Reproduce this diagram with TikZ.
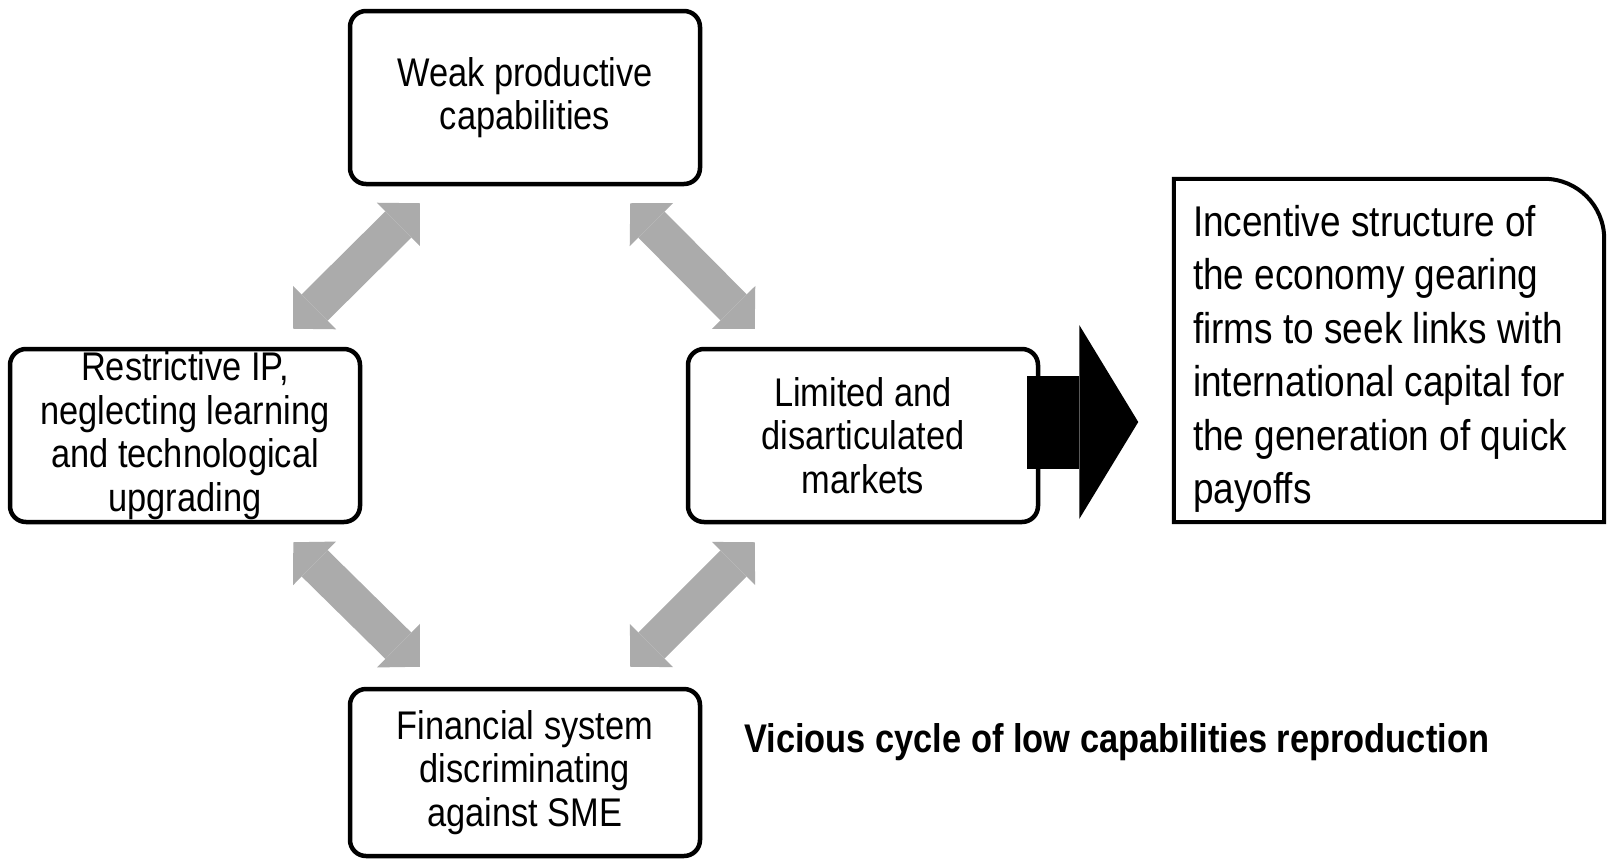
\documentclass[tikz,border=0pt]{standalone}
\usepackage{fontspec}
\setmainfont{Liberation Sans}[FakeStretch=0.86]
\usetikzlibrary{arrows.meta,calc}
\definecolor{linkgray}{RGB}{171,171,171}

\begin{document}
\begin{tikzpicture}
  [
    x=1pt, y=1pt,
    cycbox/.style =
      {draw, line width=4.5pt, rounded corners=16pt, align=center, inner sep=0pt,
       minimum width=350pt, minimum height=173pt,
       font=\fontsize{40}{43.5}\selectfont},
    linkarrow/.style =
      {<->, >={Triangle[length=30pt, width=61pt, line width=0pt]},
       draw=linkgray, line width=37pt},
    outarrow/.style =
      {->, >={Triangle[length=59pt, width=194pt, line width=0pt]},
       draw=black, line width=93pt}
  ]

\useasboundingbox (0,0) rectangle (1612,-860);

% the cycle
\node[cycbox] (wpc) at (525,-97.5) {Weak productive\\capabilities};
\node[cycbox] (rip) at (185,-435.5) {Restrictive IP,\\neglecting learning\\and technological\\upgrading};
\node[cycbox] (ldm) at (863,-435.5) {Limited and\\disarticulated\\markets};
\node[cycbox, minimum height=167pt] (fsd) at (525,-772.5) {Financial system\\discriminating\\against SME};

\draw [linkarrow] ($(wpc.south west)+(72,-17)$) -- ($(rip.north east)+(-69,18)$);
\draw [linkarrow] ($(wpc.south east)+(-72,-17)$) -- ($(ldm.north west)+(69,18)$);
\draw [linkarrow] ($(rip.south east)+(-69,-18)$) -- ($(fsd.north west)+(72,20)$);
\draw [linkarrow] ($(ldm.south west)+(69,-18)$) -- ($(fsd.north east)+(-72,20)$);

% outcome box, only one corner rounded
\node[minimum width=430pt, minimum height=343pt, inner sep=0pt] (inc) at (1389,-350.5) {};
\draw [line width=4pt] (inc.south west) -- (inc.north west)
  -- ($(inc.north east)+(-60,0)$) arc[start angle=90, end angle=0, radius=60]
  -- (inc.south east) -- cycle;
\node[inner sep=0pt, align=left, anchor=north west, font=\fontsize{43}{53.5}\selectfont]
  (inctxt) at ($(inc.north west)+(19,-26)$)
  {Incentive structure of\\the economy gearing\\firms to seek links with\\international capital for\\the generation of quick\\payoffs};

\draw [outarrow] ($(ldm.east)+(-13,13.5)$) -- ++(111,0);

\node[inner sep=0pt, anchor=base west, font=\bfseries\fontsize{40}{43.5}\selectfont]
  (title) at (744,-752) {Vicious cycle of low capabilities reproduction};

\end{tikzpicture}
\end{document}
